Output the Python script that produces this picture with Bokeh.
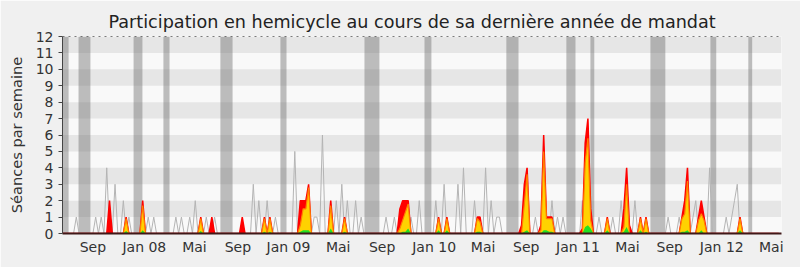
from bokeh.plotting import figure
from bokeh.models import Range1d, FixedTicker, Span, ColumnDataSource
from bokeh.embed import file_html
from bokeh.resources import INLINE

# ---- data (weekly index from mid-June 2007) ----
N_WEEKS = 260

tick_pos = [11.0, 29.6, 47.7, 63.4, 81.7, 99.7, 115.6, 134.4, 152.1, 167.7,
            186.4, 204.3, 219.6, 238.4, 256.3]
tick_labels = ["Sep", "Jan 08", "Mai", "Sep", "Jan 09", "Mai", "Sep", "Jan 10",
               "Mai", "Sep", "Jan 11", "Mai", "Sep", "Jan 12", "Mai"]

# parliamentary holidays (start week, end week)
vac_start = [0.0, 5.8, 25.7, 36.5, 57.1, 78.8, 109.2, 130.9, 160.5, 182.2, 190.9, 212.6, 234.3, 248.0]
vac_end = [2.2, 10.1, 28.9, 38.7, 61.5, 81.0, 114.6, 133.4, 164.9, 185.5, 192.3, 218.0, 236.4, 249.4]

# grey line: reference (median) sessions per week, non-zero weeks only
gray_weeks = [5, 12, 14, 16, 19, 22, 24, 31, 33, 41, 43, 46, 48, 52, 55, 69, 71, 74, 77,
              84, 91, 92, 94, 99, 101, 103, 106, 108, 117, 120, 123, 126, 129, 135, 138,
              143, 145, 149, 153, 155, 157, 158, 167, 171, 177, 179, 181, 188, 194, 199,
              202, 207, 219, 223, 228, 229, 234, 240, 242, 243, 244]
gray_vals = [1, 1, 1, 4, 3, 2, 1, 1, 1, 1, 1, 1, 2, 1, 1, 3, 2, 2, 1,
             5, 1, 1, 6, 2, 3, 2, 2, 1, 1, 1, 2, 1, 2, 2, 3,
             3, 4, 2, 4, 2, 1, 1, 2, 1, 2, 1, 1, 2, 1, 1,
             2, 2, 1, 1, 1, 2, 4, 1, 1, 2, 3]

# deputy's activity, non-zero weeks only
act_weeks = [17, 23, 29, 50, 54, 65, 73, 75, 86, 87, 88, 89, 97, 102, 122, 123, 124, 125,
             136, 139, 150, 151, 166, 167, 168, 173, 174, 175, 176, 177, 188, 189, 190, 191,
             197, 203, 204, 205, 209, 211, 224, 225, 226, 230, 231, 232, 245]
presence = [2, 1, 2, 1, 1, 1, 1, 1, 2, 2, 2, 3, 2, 1, 1.5, 2, 2, 2,
            1, 1, 1, 1, 0.5, 3, 4, 0.5, 6, 1, 1, 1, 0.3, 5.5, 7, 1.5,
            1, 1.5, 4, 0.5, 1, 1, 1, 2, 4, 1, 2, 1, 1]
participation = [0, 0.9, 1.7, 0.9, 0, 0, 0.9, 0.9, 0.5, 1.5, 1.5, 2.8, 1.7, 0.9, 0.3, 0.8, 1.3, 1.8,
                 0.9, 0.9, 0.9, 0.7, 0, 1.8, 3.6, 0.2, 5.0, 0.9, 0.9, 0.9, 0, 4.3, 5.8, 0.8,
                 0.9, 0.4, 3.0, 0, 0.9, 0.9, 0.9, 1.2, 3.2, 0.8, 1.2, 0.8, 0.9]
interventions = [0, 0.15, 0.2, 0.15, 0, 0, 0.1, 0.1, 0.1, 0.2, 0.2, 0.2, 0.3, 0.1, 0, 0.1, 0.1, 0.3,
                 0.2, 0.2, 0.1, 0.1, 0, 0.1, 0.2, 0, 0.2, 0.2, 0.1, 0.1, 0, 0.4, 0.5, 0.3,
                 0.2, 0.1, 0.4, 0, 0.2, 0.1, 0.1, 0.1, 0.2, 0, 0.2, 0, 0.2]

# ---- expand sparse series to full weekly arrays ----
weeks = list(range(N_WEEKS))
gray = [0.0] * N_WEEKS
for w, v in zip(gray_weeks, gray_vals):
    gray[w] = v
red = [0.0] * N_WEEKS
yel = [0.0] * N_WEEKS
grn = [0.0] * N_WEEKS
for w, r, y, g in zip(act_weeks, presence, participation, interventions):
    red[w], yel[w], grn[w] = r, y, g

src = ColumnDataSource(dict(x=weeks, gray=gray, red=red, yel=yel, grn=grn, zero=[0.0] * N_WEEKS))

FONT = "DejaVu Sans"

p = figure(width=800, height=267, output_backend="svg", toolbar_location=None,
           x_range=Range1d(0, N_WEEKS), y_range=Range1d(0, 12),
           min_border_left=62, min_border_right=19, min_border_top=36, min_border_bottom=34)

p.title.text = "Participation en hemicycle au cours de sa dernière année de mandat"
p.title.align = "left"
p.title.offset = 46
p.title.text_font = FONT
p.title.text_font_size = "17.6px"
p.title.text_font_style = "normal"
p.title.text_color = "#222222"

p.background_fill_color = "#f9f9f9"
p.border_fill_color = "#f0f0f0"
p.outline_line_color = None

# y axis
yt = FixedTicker(ticks=list(range(0, 13)))
p.yaxis.ticker = yt
p.ygrid.ticker = yt
p.ygrid.grid_line_color = None
p.ygrid.band_fill_color = "#e6e6e6"
p.ygrid.band_fill_alpha = 1.0
p.xgrid.visible = False
p.yaxis.axis_label = "Séances par semaine"
p.yaxis.axis_label_text_font = FONT
p.yaxis.axis_label_text_font_size = "14.6px"
p.yaxis.axis_label_text_font_style = "normal"
p.yaxis.axis_label_text_color = "#333333"
p.yaxis.axis_label_standoff = 8
p.yaxis.major_label_text_font = FONT
p.yaxis.major_label_text_font_size = "14px"
p.yaxis.major_label_text_color = "#333333"
p.yaxis.major_tick_out = 4
p.yaxis.major_tick_in = 0
p.yaxis.minor_tick_line_color = None
p.yaxis.axis_line_color = "#444444"
p.yaxis.major_tick_line_color = "#444444"
p.yaxis.major_label_standoff = 5

# x axis
p.xaxis.ticker = FixedTicker(ticks=tick_pos)
p.xaxis.major_label_overrides = {t: l for t, l in zip(tick_pos, tick_labels)}
p.xaxis.major_label_text_font = FONT
p.xaxis.major_label_text_font_size = "14px"
p.xaxis.major_label_text_color = "#333333"
p.xaxis.major_tick_out = 0
p.xaxis.major_tick_in = 0
p.xaxis.minor_tick_line_color = None
p.xaxis.major_label_standoff = 5
p.xaxis.axis_line_color = "#401818"
p.xaxis.axis_line_width = 2

# holidays
p.quad(left=vac_start, right=vac_end, bottom=0, top=12,
       fill_color="#707070", fill_alpha=0.45, line_color=None)

# series
p.line("x", "gray", source=src, line_color="#b4b4b4", line_width=1)
p.varea(x="x", y1="zero", y2="red", source=src, fill_color="#ff0000")
p.line("x", "red", source=src, line_color="#ff0000", line_width=1.5)
p.varea(x="x", y1="zero", y2="yel", source=src, fill_color="#ffd200")
p.line("x", "yel", source=src, line_color="#ff8000", line_width=1.2)
p.varea(x="x", y1="zero", y2="grn", source=src, fill_color="#22e022")

p.add_layout(Span(location=12, dimension="width", line_color="black",
                  line_dash="dotted", line_width=1))

open("out.html", "w").write(file_html(p, INLINE))
